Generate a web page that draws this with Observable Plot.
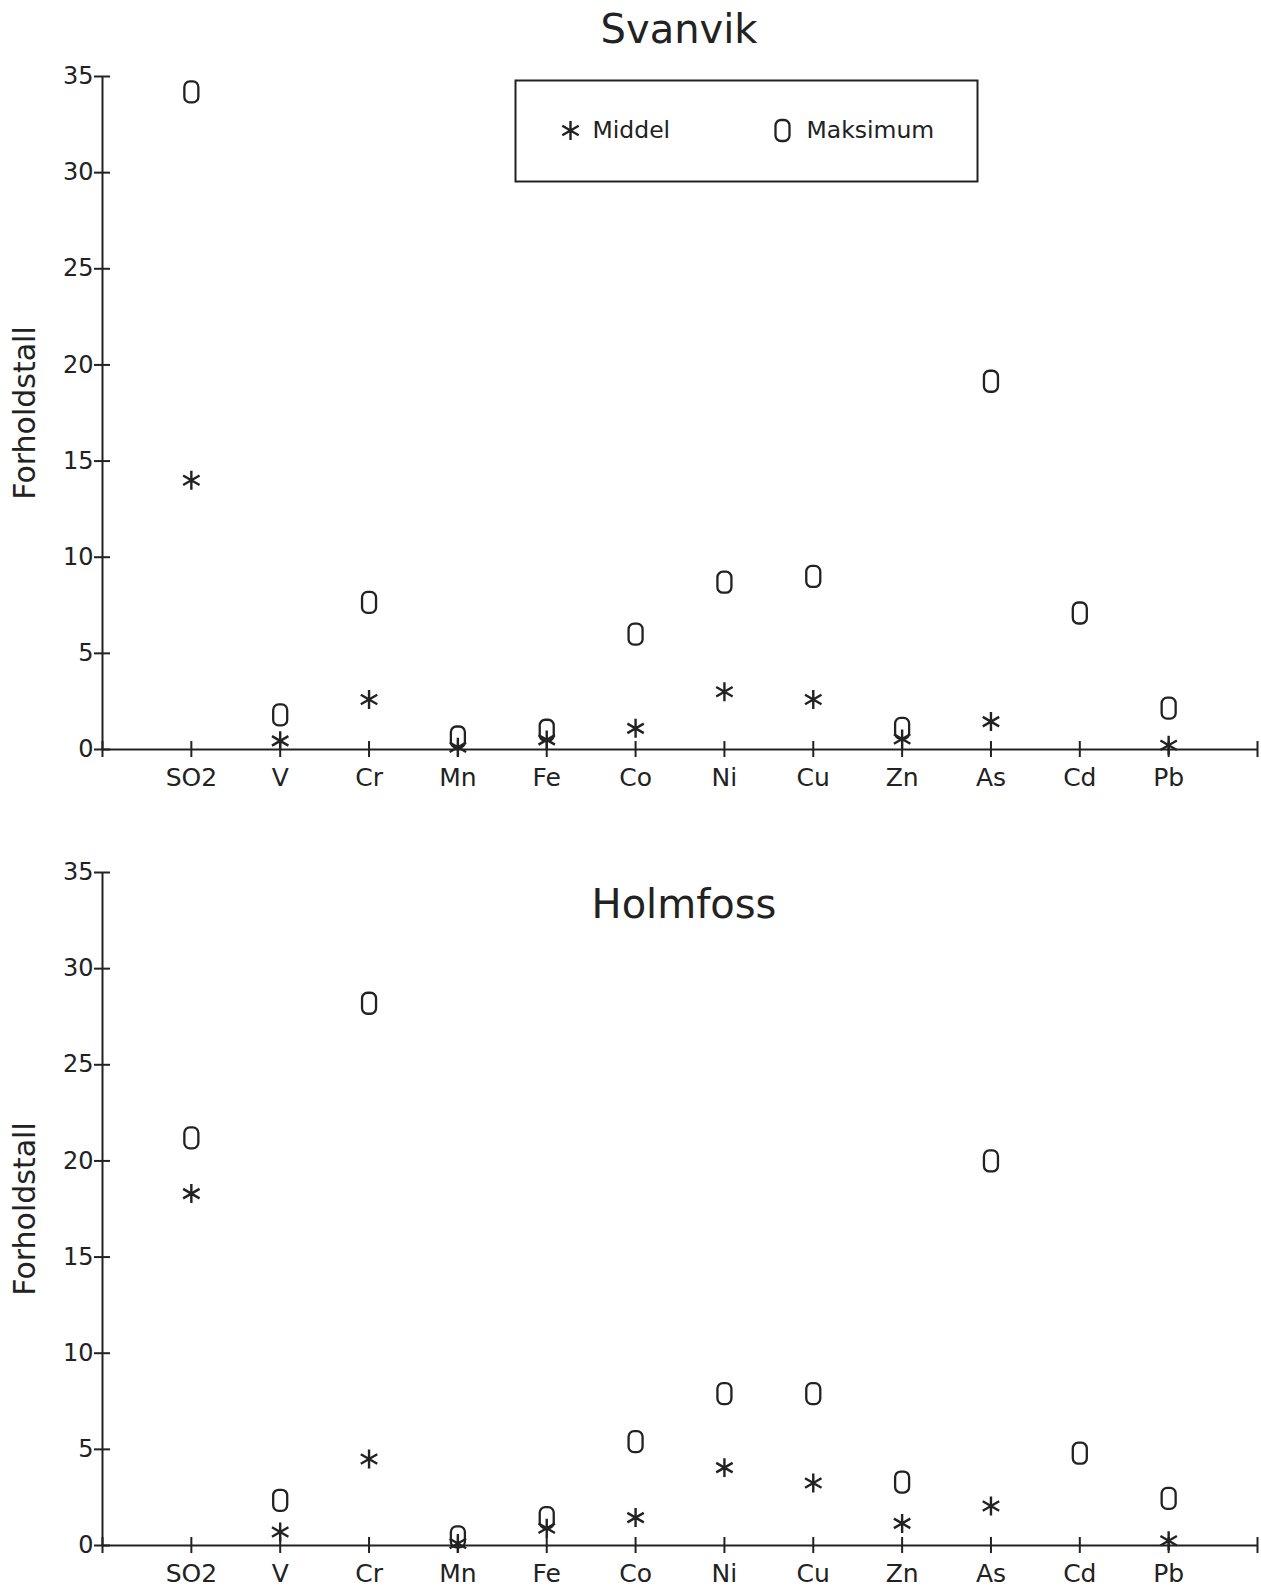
<!DOCTYPE html>
<html><head><meta charset="utf-8">
<script src="https://cdn.jsdelivr.net/npm/d3@7"></script>
<script src="https://cdn.jsdelivr.net/npm/@observablehq/plot@0.6"></script>
<style>
body{margin:0;background:#fff;}
#chart{width:1261px;height:1590px;}
#chart svg{display:block;}
</style></head><body><div id="chart"></div>
<script>
// ---- data ----
const categories = ["SO2","V","Cr","Mn","Fe","Co","Ni","Cu","Zn","As","Cd","Pb"];
const svanvikMiddel  = [14.0, 0.45, 2.6, 0.12, 0.5, 1.1, 3.0, 2.6, 0.55, 1.45, null, 0.22];
const svanvikMaks    = [34.2, 1.8, 7.65, 0.65, 1.0, 6.0, 8.7, 9.0, 1.1, 19.15, 7.1, 2.15];
const holmfossMiddel = [18.3, 0.7, 4.5, 0.1, 0.9, 1.45, 4.05, 3.25, 1.15, 2.05, null, 0.25];
const holmfossMaks   = [21.2, 2.35, 28.2, 0.45, 1.45, 5.4, 7.9, 7.9, 3.3, 20.0, 4.8, 2.45];
const yTicks = [0, 5, 10, 15, 20, 25, 30, 35];
const yLabel = "Forholdstall";
const legendLabels = ["Middel", "Maksimum"];

const ink = "#222";
const xTicks = d3.range(0, categories.length + 2);

// "0"-shaped marker used for Maksimum (rounded, tall and narrow)
const zeroSymbol = {
  draw(ctx) {
    const w = 7, h = 10.5, r = 5.5;
    ctx.moveTo(-w, -h + r);
    ctx.arcTo(-w, -h, -w + r, -h, r);
    ctx.lineTo(w - r, -h);
    ctx.arcTo(w, -h, w, -h + r, r);
    ctx.lineTo(w, h - r);
    ctx.arcTo(w, h, w - r, h, r);
    ctx.lineTo(-w + r, h);
    ctx.arcTo(-w, h, -w, h - r, r);
    ctx.closePath();
  }
};

function rows(middel, maks) {
  return categories.map((c, i) => ({cat: c, pos: i + 1, middel: middel[i], maks: maks[i]}));
}

function panel({title, middel, maks, height, marginTop, marginBottom, titleDx, titleDy, legend}) {
  const data = rows(middel, maks);
  const marks = [
    Plot.ruleX([0], {stroke: ink, strokeWidth: 2}),
    Plot.ruleY([0], {stroke: ink, strokeWidth: 2}),
    // crossing ticks (no text)
    Plot.axisY({ticks: yTicks, tickSize: 16, dx: 8, stroke: ink, strokeWidth: 2, fill: "none", label: null}),
    Plot.axisX({ticks: xTicks, tickSize: 16, dy: -8, stroke: ink, strokeWidth: 2, fill: "none", label: null}),
    // tick labels (no ticks)
    Plot.axisY({ticks: yTicks, tickSize: 0, tickPadding: 9, fontSize: 24, fill: ink, label: null}),
    Plot.axisX({ticks: xTicks, tickSize: 0, tickPadding: 19, fontSize: 25, fill: ink, label: null,
                tickFormat: i => categories[i - 1] ?? ""}),
    Plot.text([yLabel], {frameAnchor: "left", rotate: -90, dx: -77, textAnchor: "middle", lineAnchor: "middle",
                         fontSize: 30, fill: ink}),
    Plot.text([title], {frameAnchor: "top", dx: titleDx, dy: titleDy, textAnchor: "middle", lineAnchor: "middle",
                        fontSize: 40, fill: ink}),
    Plot.dot(data.filter(d => d.maks != null), {x: "pos", y: "maks", symbol: zeroSymbol, r: 8, stroke: ink, strokeWidth: 2.3}),
    Plot.dot(data.filter(d => d.middel != null), {x: "pos", y: "middel", symbol: "asterisk", r: 9, stroke: ink, strokeWidth: 2.4})
  ];
  if (legend) {
    marks.push(
      Plot.frame({insetLeft: 413, insetRight: 280, insetTop: 4, insetBottom: 568, stroke: ink, strokeWidth: 2}),
      Plot.dot([0], {frameAnchor: "top-left", dx: 468, dy: 54, symbol: "asterisk", r: 9, stroke: ink, strokeWidth: 2.4}),
      Plot.text([legendLabels[0]], {frameAnchor: "top-left", dx: 490, dy: 54, textAnchor: "start", lineAnchor: "middle", fontSize: 23.5, fill: ink}),
      Plot.dot([0], {frameAnchor: "top-left", dx: 680, dy: 54, symbol: zeroSymbol, r: 8, stroke: ink, strokeWidth: 2.3}),
      Plot.text([legendLabels[1]], {frameAnchor: "top-left", dx: 704, dy: 54, textAnchor: "start", lineAnchor: "middle", fontSize: 23.5, fill: ink})
    );
  }
  return Plot.plot({
    width: 1261,
    height,
    marginLeft: 102,
    marginRight: 4,
    marginTop,
    marginBottom,
    style: {fontFamily: "'DejaVu Sans', sans-serif", color: ink, background: "white", overflow: "visible"},
    x: {type: "linear", domain: [0, categories.length + 1]},
    y: {type: "linear", domain: [0, 35]},
    marks
  });
}

const chart = document.getElementById("chart");
chart.append(panel({title: "Svanvik", middel: svanvikMiddel, maks: svanvikMaks,
  height: 800, marginTop: 76, marginBottom: 51, titleDx: -1, titleDy: -46, legend: true}));
chart.append(panel({title: "Holmfoss", middel: holmfossMiddel, maks: holmfossMaks,
  height: 790, marginTop: 72, marginBottom: 45, titleDx: 4, titleDy: 33, legend: false}));
</script>
</body></html>
